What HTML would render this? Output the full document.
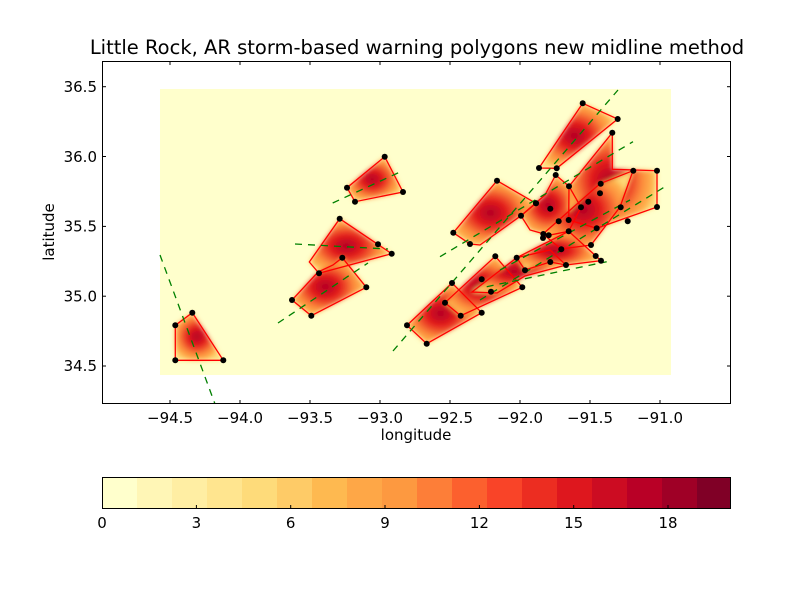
<!DOCTYPE html>
<html><head><meta charset="utf-8"><style>
body{margin:0;background:#fff;}
svg{display:block;font-family:"DejaVu Sans","Liberation Sans",sans-serif;}
</style></head><body>
<svg width="812" height="612" viewBox="0 0 812 612" xmlns="http://www.w3.org/2000/svg">
<defs>
<radialGradient id="h" cx="0.45" cy="0.5" r="0.55">
<stop offset="0" stop-color="#b00026"/>
<stop offset="0.35" stop-color="#e31a1c"/>
<stop offset="0.7" stop-color="#fd8d3c"/>
<stop offset="0.9" stop-color="#feb24c"/>
<stop offset="1" stop-color="#fed976"/>
</radialGradient>
<filter id="b" x="-20%" y="-20%" width="140%" height="140%"><feGaussianBlur stdDeviation="2.5"/></filter>
<clipPath id="c"><rect x="102" y="61" width="629" height="343"/></clipPath>
</defs>
<rect x="0" y="0" width="812" height="612" fill="#fff"/>
<text x="417" y="54" font-size="19.5" text-anchor="middle">Little Rock, AR storm-based warning polygons new midline method</text>
<rect x="160" y="89" width="511" height="286" fill="#ffffcc"/>
<g clip-path="url(#c)">
<g filter="url(#b)" fill="url(#h)">
<polygon points="175.3,325.3 192.3,312.7 223.3,360.3 175.3,360.3"/>
<polygon points="384.7,156.7 403,192 355,201.7 347,187.7"/>
<polygon points="339.7,218.7 391.7,253.7 319,273.3 309.3,262"/>
<polygon points="342.3,257.7 366.3,287.3 311.3,315.7 292,300 318,272 333,265"/>
<polygon points="582.7,103.3 617.7,119 556.7,168.3 539,168"/>
<polygon points="497,180.7 536,203.3 521,215.7 480,245 470,244 453.3,232.7"/>
<polygon points="407,325.3 426.7,343.7 481.7,312.7 452,283"/>
<polygon points="445,302.7 460.7,315.7 522.3,287.3 495.3,256.3"/>
<polygon points="472,292 516.7,257.7 550,250 566,265 525,276 497,293"/>
<polygon points="521,215.7 545,195 555.7,175 569,186.3 581,207.3 568.7,231.3 548.7,235.3 530,230"/>
<polygon points="612.3,132.7 612.3,169.3 657,170.7 657,207 596.7,228.3 568.7,220 569,186.3"/>
<polygon points="543,234 600,183.7 633,170.7 620,207 591,245 561,249"/>
<polygon points="516.7,257.7 568.7,231.3 601,260.7 566,265 550,262 525,270"/>
</g>
<g fill="none" stroke="#ff0000" stroke-width="1.3">
<polygon points="175.3,325.3 192.3,312.7 223.3,360.3 175.3,360.3"/>
<polygon points="384.7,156.7 403,192 355,201.7 347,187.7"/>
<polygon points="339.7,218.7 391.7,253.7 319,273.3 309.3,262"/>
<polygon points="342.3,257.7 366.3,287.3 311.3,315.7 292,300 318,272 333,265"/>
<polygon points="582.7,103.3 617.7,119 556.7,168.3 539,168"/>
<polygon points="497,180.7 536,203.3 521,215.7 480,245 470,244 453.3,232.7"/>
<polygon points="407,325.3 426.7,343.7 481.7,312.7 452,283"/>
<polygon points="445,302.7 460.7,315.7 522.3,287.3 495.3,256.3"/>
<polygon points="472,292 516.7,257.7 550,250 566,265 525,276 497,293"/>
<polygon points="521,215.7 545,195 555.7,175 569,186.3 581,207.3 568.7,231.3 548.7,235.3 530,230"/>
<polygon points="612.3,132.7 612.3,169.3 657,170.7 657,207 596.7,228.3 568.7,220 569,186.3"/>
<polygon points="543,234 600,183.7 633,170.7 620,207 591,245 561,249"/>
<polygon points="516.7,257.7 568.7,231.3 601,260.7 566,265 550,262 525,270"/>
</g>
<g stroke="#008000" stroke-width="1.3" stroke-dasharray="7,6" fill="none">
<line x1="160" y1="255" x2="215" y2="404"/>
<line x1="278" y1="323" x2="368" y2="263"/>
<line x1="295" y1="244" x2="388" y2="249"/>
<line x1="332.7" y1="203" x2="400.7" y2="171.7"/>
<line x1="393" y1="351" x2="618" y2="90"/>
<line x1="440" y1="256.7" x2="633" y2="141.7"/>
<line x1="480" y1="300" x2="665" y2="186.7"/>
<line x1="486.7" y1="286.7" x2="606.7" y2="261.7"/>
<line x1="500" y1="270" x2="630" y2="200"/>
</g>
<g fill="#000">
<circle cx="175.3" cy="325.3" r="3"/><circle cx="192.3" cy="312.7" r="3"/><circle cx="223.3" cy="360.3" r="3"/><circle cx="175.3" cy="360.3" r="3"/>
<circle cx="384.7" cy="156.7" r="3"/><circle cx="403" cy="192" r="3"/><circle cx="355" cy="201.7" r="3"/><circle cx="347" cy="187.7" r="3"/>
<circle cx="339.7" cy="218.7" r="3"/><circle cx="378" cy="244.3" r="3"/><circle cx="391.7" cy="253.7" r="3"/><circle cx="319" cy="273.3" r="3"/>
<circle cx="342.3" cy="257.7" r="3"/><circle cx="366.3" cy="287.3" r="3"/><circle cx="311.3" cy="315.7" r="3"/><circle cx="292" cy="300" r="3"/>
<circle cx="582.7" cy="103.3" r="3"/><circle cx="617.7" cy="119" r="3"/><circle cx="556.7" cy="168.3" r="3"/><circle cx="539" cy="168" r="3"/>
<circle cx="497" cy="180.7" r="3"/><circle cx="536" cy="203.3" r="3"/><circle cx="521" cy="215.7" r="3"/><circle cx="470" cy="244" r="3"/><circle cx="453.3" cy="232.7" r="3"/>
<circle cx="407" cy="325.3" r="3"/><circle cx="426.7" cy="343.7" r="3"/><circle cx="481.7" cy="312.7" r="3"/><circle cx="452" cy="283" r="3"/>
<circle cx="445" cy="302.7" r="3"/><circle cx="460.7" cy="315.7" r="3"/><circle cx="522.3" cy="287.3" r="3"/><circle cx="495.3" cy="256.3" r="3"/><circle cx="481.7" cy="279.3" r="3"/>
<circle cx="491" cy="291.7" r="3"/><circle cx="516.7" cy="257.7" r="3"/><circle cx="525" cy="270.3" r="3"/><circle cx="550.3" cy="262" r="3"/><circle cx="566" cy="265" r="3"/>
<circle cx="601" cy="260.7" r="3"/><circle cx="595.7" cy="256" r="3"/><circle cx="591" cy="245" r="3"/><circle cx="568.7" cy="231.3" r="3"/><circle cx="561.3" cy="249.3" r="3"/>
<circle cx="548.7" cy="235.3" r="3"/><circle cx="543.3" cy="234" r="3"/><circle cx="558.7" cy="221.3" r="3"/><circle cx="568.7" cy="220" r="3"/><circle cx="550.3" cy="208.7" r="3"/>
<circle cx="581" cy="207.3" r="3"/><circle cx="588.3" cy="201.7" r="3"/><circle cx="596.7" cy="228.3" r="3"/><circle cx="627.7" cy="221.3" r="3"/><circle cx="620.7" cy="207.3" r="3"/>
<circle cx="657" cy="207" r="3"/><circle cx="657" cy="170.7" r="3"/><circle cx="633.3" cy="170.7" r="3"/><circle cx="612.3" cy="132.7" r="3"/>
<circle cx="600" cy="193.3" r="3"/><circle cx="600.7" cy="183.7" r="3"/><circle cx="569" cy="186.3" r="3"/><circle cx="555.7" cy="175" r="3"/><circle cx="536" cy="203.3" r="3"/><circle cx="543" cy="238" r="3"/>
</g>
</g>
<rect x="102.5" y="61.5" width="628" height="342" fill="none" stroke="#000" stroke-width="1"/>
<g stroke="#000" stroke-width="1">
<line x1="170" y1="404" x2="170" y2="400"/><line x1="240" y1="404" x2="240" y2="400"/><line x1="310" y1="404" x2="310" y2="400"/><line x1="380" y1="404" x2="380" y2="400"/><line x1="450" y1="404" x2="450" y2="400"/><line x1="520" y1="404" x2="520" y2="400"/><line x1="590" y1="404" x2="590" y2="400"/><line x1="660" y1="404" x2="660" y2="400"/>
<line x1="170" y1="61" x2="170" y2="65"/><line x1="240" y1="61" x2="240" y2="65"/><line x1="310" y1="61" x2="310" y2="65"/><line x1="380" y1="61" x2="380" y2="65"/><line x1="450" y1="61" x2="450" y2="65"/><line x1="520" y1="61" x2="520" y2="65"/><line x1="590" y1="61" x2="590" y2="65"/><line x1="660" y1="61" x2="660" y2="65"/>
<line x1="102" y1="86.7" x2="106" y2="86.7"/><line x1="102" y1="156.5" x2="106" y2="156.5"/><line x1="102" y1="226.4" x2="106" y2="226.4"/><line x1="102" y1="296.2" x2="106" y2="296.2"/><line x1="102" y1="366" x2="106" y2="366"/>
<line x1="731" y1="86.7" x2="727" y2="86.7"/><line x1="731" y1="156.5" x2="727" y2="156.5"/><line x1="731" y1="226.4" x2="727" y2="226.4"/><line x1="731" y1="296.2" x2="727" y2="296.2"/><line x1="731" y1="366" x2="727" y2="366"/>
</g>
<g font-size="15" text-anchor="middle">
<text x="170" y="423">−94.5</text><text x="240" y="423">−94.0</text><text x="310" y="423">−93.5</text><text x="380" y="423">−93.0</text><text x="450" y="423">−92.5</text><text x="520" y="423">−92.0</text><text x="590" y="423">−91.5</text><text x="660" y="423">−91.0</text>
<text x="416" y="440">longitude</text>
</g>
<g font-size="15" text-anchor="end">
<text x="97" y="92">36.5</text><text x="97" y="162">36.0</text><text x="97" y="231.5">35.5</text><text x="97" y="301.5">35.0</text><text x="97" y="371">34.5</text>
</g>
<text x="54" y="232" font-size="15" text-anchor="middle" transform="rotate(-90 54 232)">latitude</text>
<g>
<rect x="102" y="477" width="35" height="32" fill="#ffffcc"/>
<rect x="137" y="477" width="35" height="32" fill="#fff6b6"/>
<rect x="172" y="477" width="35" height="32" fill="#ffeea3"/>
<rect x="207" y="477" width="35" height="32" fill="#ffe58f"/>
<rect x="242" y="477" width="35" height="32" fill="#fedb7a"/>
<rect x="277" y="477" width="35" height="32" fill="#fecb67"/>
<rect x="312" y="477" width="35" height="32" fill="#feb950"/>
<rect x="347" y="477" width="35" height="32" fill="#fea747"/>
<rect x="382" y="477" width="35" height="32" fill="#fd9940"/>
<rect x="417" y="477" width="35" height="32" fill="#fd7e38"/>
<rect x="452" y="477" width="35" height="32" fill="#fc602e"/>
<rect x="487" y="477" width="35" height="32" fill="#f94428"/>
<rect x="522" y="477" width="35" height="32" fill="#ec2d21"/>
<rect x="557" y="477" width="35" height="32" fill="#de171e"/>
<rect x="592" y="477" width="35" height="32" fill="#cc0c22"/>
<rect x="627" y="477" width="35" height="32" fill="#b90026"/>
<rect x="662" y="477" width="35" height="32" fill="#9f0026"/>
<rect x="697" y="477" width="34" height="32" fill="#800026"/>
</g>
<rect x="102.5" y="477.5" width="628" height="31" fill="none" stroke="#000" stroke-width="1"/>
<g stroke="#000"><line x1="196.4" y1="509" x2="196.4" y2="505"/><line x1="290.7" y1="509" x2="290.7" y2="505"/><line x1="385" y1="509" x2="385" y2="505"/><line x1="479.4" y1="509" x2="479.4" y2="505"/><line x1="573.7" y1="509" x2="573.7" y2="505"/><line x1="668" y1="509" x2="668" y2="505"/></g>
<g font-size="15" text-anchor="middle">
<text x="102" y="528">0</text><text x="196.4" y="528">3</text><text x="290.7" y="528">6</text><text x="385" y="528">9</text><text x="479.4" y="528">12</text><text x="573.7" y="528">15</text><text x="668" y="528">18</text>
</g>
</svg>
</body></html>
